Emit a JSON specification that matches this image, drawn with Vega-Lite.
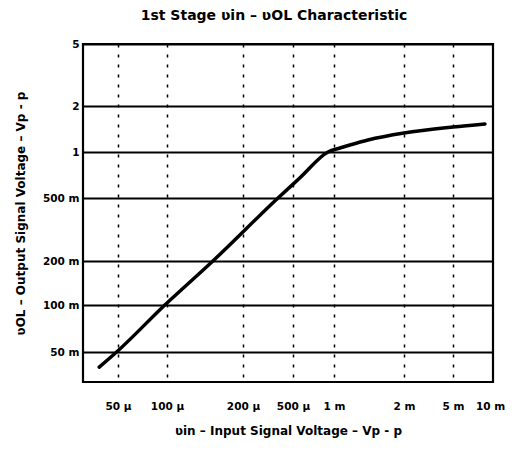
{
  "$schema": "https://vega.github.io/schema/vega-lite/v6.json",
  "autosize": "none",
  "padding": {"left": 83, "top": 44, "right": 23, "bottom": 73},
  "width": 410,
  "height": 338,
  "background": "white",
  "title": {
    "text": "1st Stage ʋin – ʋOL Characteristic",
    "font": "DejaVu Sans",
    "fontSize": 14,
    "fontWeight": "bold",
    "color": "black",
    "anchor": "middle",
    "dx": -14,
    "offset": 16
  },
  "config": {
    "view": {"stroke": "black", "strokeWidth": 2.2},
    "axis": {
      "labelFont": "DejaVu Sans",
      "labelFontWeight": "bold",
      "labelColor": "black",
      "titleFont": "DejaVu Sans",
      "titleFontWeight": "bold",
      "titleColor": "black",
      "domain": false,
      "ticks": false
    }
  },
  "data": {
    "values": [
      {"vin": 0.000038, "vol": 0.040},
      {"vin": 0.000049, "vol": 0.05},
      {"vin": 0.000097, "vol": 0.1},
      {"vin": 0.000152, "vol": 0.2},
      {"vin": 0.00038, "vol": 0.5},
      {"vin": 0.000563, "vol": 0.678},
      {"vin": 0.000904, "vol": 1.0},
      {"vin": 0.00106, "vol": 1.062},
      {"vin": 0.00117, "vol": 1.111},
      {"vin": 0.0014, "vol": 1.198},
      {"vin": 0.002, "vol": 1.331},
      {"vin": 0.005, "vol": 1.457},
      {"vin": 0.0091, "vol": 1.525}
    ]
  },
  "mark": {"type": "line", "color": "black", "strokeWidth": 3.5, "interpolate": "monotone", "strokeCap": "round"},
  "encoding": {
    "x": {
      "field": "vin",
      "type": "quantitative",
      "scale": {
        "type": "log",
        "nice": false,
        "zero": false,
        "domain": [0.00003, 0.00005, 0.0001, 0.0002, 0.0005, 0.001, 0.002, 0.005, 0.01, 0.0105],
        "range": [0, 35, 84, 160, 210, 251, 321, 370, 407, 410]
      },
      "axis": {
        "values": [0.00005, 0.0001, 0.0002, 0.0005, 0.001, 0.002, 0.005, 0.01],
        "labelExpr": "{'0.00005':'50 µ','0.0001':'100 µ','0.0002':'200 µ','0.0005':'500 µ','0.001':'1 m','0.002':'2 m','0.005':'5 m','0.01':'10 m'}[toString(datum.value)]",
        "labelFontSize": 10.5,
        "labelPadding": 19,
        "labelFlush": false,
        "labelOverlap": false,
        "grid": true,
        "gridColor": "black",
        "gridWidth": 1.5,
        "gridDash": [3, 7],
        "gridOpacity": {"condition": {"test": "datum.value >= 0.01", "value": 0}, "value": 1},
        "title": "ʋin – Input Signal Voltage – Vp - p",
        "titleFontSize": 12,
        "titlePadding": 14
      }
    },
    "y": {
      "field": "vol",
      "type": "quantitative",
      "scale": {
        "type": "log",
        "nice": false,
        "zero": false,
        "domain": [0.0321, 0.05, 0.1, 0.2, 0.5, 1, 2, 5],
        "range": [338, 308, 261, 217, 154, 108, 62, 0]
      },
      "axis": {
        "values": [0.05, 0.1, 0.2, 0.5, 1, 2, 5],
        "labelExpr": "{'0.05':'50 m','0.1':'100 m','0.2':'200 m','0.5':'500 m','1':'1','2':'2','5':'5'}[toString(datum.value)]",
        "labelFontSize": 10.5,
        "labelPadding": 4,
        "labelOverlap": false,
        "grid": true,
        "gridColor": "black",
        "gridWidth": 1.8,
        "title": "ʋOL – Output Signal Voltage – Vp - p",
        "titleFontSize": 12,
        "titlePadding": 15
      }
    }
  }
}
